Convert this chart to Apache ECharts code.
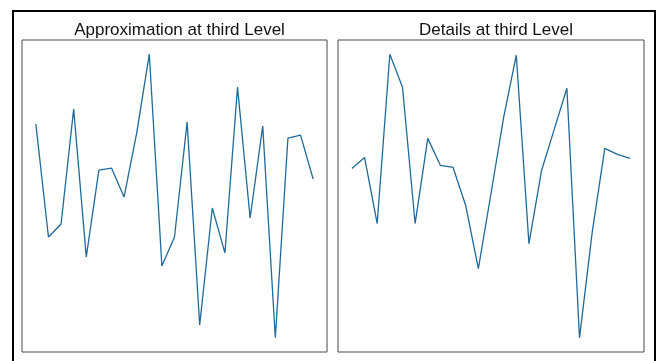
<!DOCTYPE html>
<html>
<head>
<meta charset="utf-8">
<script src="https://cdn.jsdelivr.net/npm/echarts@6/dist/echarts.min.js"></script>
<style>
  html, body { margin: 0; padding: 0; background: #ffffff; }
  #chart { width: 662px; height: 361px; }
</style>
</head>
<body>
<div id="chart"></div>
<script>
// Third-level wavelet decomposition: approximation and detail coefficients
const sampleIndex = Array.from({ length: 23 }, (_, i) => i);

const approximation = [
  0.72, -0.41, -0.28, 0.87, -0.61, 0.26, 0.28, -0.01, 0.63, 1.42,
  -0.70, -0.41, 0.74, -1.29, -0.12, -0.57, 1.09, -0.22, 0.70, -1.42,
  0.58, 0.61, 0.17
];

const details = [
  0.28, 0.39, -0.27, 1.42, 1.09, -0.27, 0.58, 0.31, 0.29, -0.09,
  -0.72, 0.03, 0.79, 1.41, -0.47, 0.26, 0.67, 1.08, -1.41, -0.36,
  0.48, 0.42, 0.38
];

const panelTitles = ['Approximation at third Level', 'Details at third Level'];

const lineColor = '#1f6a99';

// autoscale with a 5% margin on each side, like the usual plotting default
function paddedRange(values) {
  const lo = Math.min(...values), hi = Math.max(...values);
  const pad = (hi - lo) * 0.05;
  return { min: lo - pad, max: hi + pad };
}
const xPad = (sampleIndex.length - 1) * 0.05;

const grids = [
  { left: 22, top: 40, width: 305, height: 312 },
  { left: 338, top: 40, width: 306, height: 312 }
];

const seriesData = [approximation, details];

const option = {
  backgroundColor: '#ffffff',
  animation: false,
  title: panelTitles.map((t, i) => ({
    text: t,
    left: grids[i].left + grids[i].width / 2,
    textAlign: 'center',
    top: 17,
    textStyle: {
      fontFamily: 'Liberation Sans',
      fontSize: 17,
      fontWeight: 'normal',
      color: '#111111'
    }
  })),
  grid: grids.map(g => Object.assign({
    show: true,
    borderColor: '#4a4a4a',
    borderWidth: 1,
    backgroundColor: 'transparent',
    containLabel: false
  }, g)),
  xAxis: grids.map((g, i) => ({
    type: 'value',
    gridIndex: i,
    min: -xPad,
    max: sampleIndex.length - 1 + xPad,
    show: false
  })),
  yAxis: seriesData.map((d, i) => Object.assign({
    type: 'value',
    gridIndex: i,
    show: false,
    scale: true
  }, paddedRange(d))),
  series: seriesData.map((d, i) => ({
    type: 'line',
    xAxisIndex: i,
    yAxisIndex: i,
    data: d.map((v, k) => [sampleIndex[k], v]),
    showSymbol: false,
    lineStyle: { color: lineColor, width: 1.3 },
    silent: true
  })),
  graphic: [{
    type: 'rect',
    shape: { x: 13, y: 11, width: 642, height: 360 },
    style: { fill: 'none', stroke: '#000000', lineWidth: 2 },
    silent: true
  }]
};

const chart = echarts.init(document.getElementById('chart'), null, { renderer: 'canvas' });
chart.setOption(option);
</script>
</body>
</html>
